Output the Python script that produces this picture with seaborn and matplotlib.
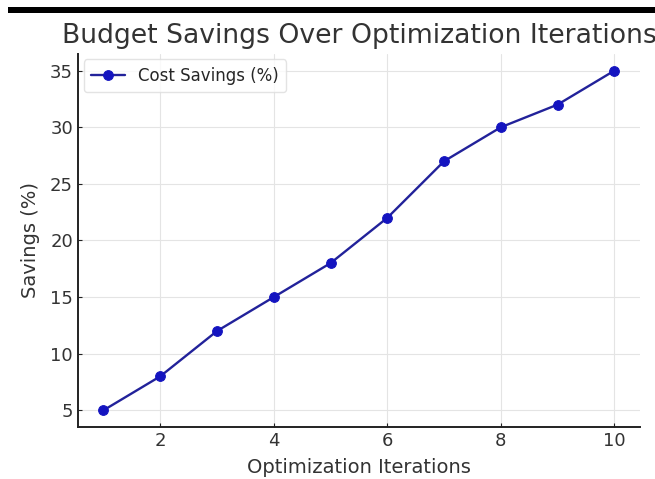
import matplotlib
matplotlib.use("Agg")
import matplotlib.pyplot as plt
import seaborn as sns
import pandas as pd
from matplotlib.patches import Rectangle

iterations = [1, 2, 3, 4, 5, 6, 7, 8, 9, 10]
savings = [5, 8, 12, 15, 18, 22, 27, 30, 32, 35]
series_label = "Cost Savings (%)"
title = "Budget Savings Over Optimization Iterations"
xlabel = "Optimization Iterations"
ylabel = "Savings (%)"

df = pd.DataFrame({"Iteration": iterations, "Savings": savings})

sns.set_style("white")
plt.rcParams['font.family'] = ['DejaVu Sans']

fig = plt.figure(figsize=(6.55, 4.79), dpi=100)
ax = fig.add_axes([0.119, 0.108, 0.858, 0.78])

sns.lineplot(data=df, x="Iteration", y="Savings", ax=ax, color="#22229a",
             marker="o", markersize=7, markerfacecolor="#1414c0",
             markeredgecolor="#1414c0", linewidth=1.7, label=series_label)

ax.grid(True, color="#e4e4e4", linewidth=0.8, linestyle="-")
ax.set_axisbelow(True)
for s in ["top", "right"]:
    ax.spines[s].set_visible(False)
for s in ["left", "bottom"]:
    ax.spines[s].set_color("#222222")
    ax.spines[s].set_linewidth(1.4)
ax.tick_params(axis="both", direction="in", length=3, labelsize=13,
               colors="#222222", labelcolor="#333333", left=True, bottom=True)
ax.set_xticks([2, 4, 6, 8, 10])
ax.set_yticks([5, 10, 15, 20, 25, 30, 35])
ax.set_xlabel(xlabel, fontsize=14, color="#333333", labelpad=6)
ax.set_ylabel(ylabel, fontsize=14, color="#333333", labelpad=7)
ax.set_title(title, fontsize=19.2, color="#333333", pad=8)
leg = ax.legend(loc="upper left", fontsize=12, frameon=True, borderpad=0.45,
                handlelength=2.0, borderaxespad=0.35)
leg.get_frame().set_edgecolor("#dddddd")

fig.patches.append(Rectangle((0.012, 0.972), 0.988, 0.013, transform=fig.transFigure,
                             facecolor="black", edgecolor="none", zorder=10))

fig.savefig("out.png", dpi=100)
